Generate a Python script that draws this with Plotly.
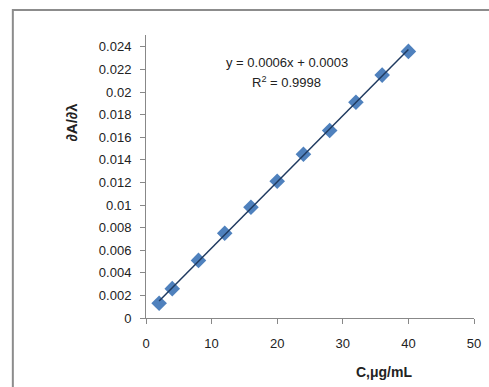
import numpy as np
import plotly.graph_objects as go

conc = [2, 4, 8, 12, 16, 20, 24, 28, 32, 36, 40]
deriv = [0.0013, 0.0026, 0.0051, 0.0075, 0.0098, 0.0121, 0.0145, 0.0166, 0.0191, 0.0215, 0.0236]
x_ticks = [0, 10, 20, 30, 40, 50]
y_ticks = [0, 0.002, 0.004, 0.006, 0.008, 0.01, 0.012, 0.014, 0.016, 0.018, 0.02, 0.022, 0.024]
y_tick_text = ["0", "0.002", "0.004", "0.006", "0.008", "0.01", "0.012", "0.014", "0.016", "0.018", "0.02", "0.022", "0.024"]
eq_line1 = "y = 0.0006x + 0.0003"
eq_line2 = "R<sup>2</sup> = 0.9998"

FONT = "'Liberation Sans', Arial, sans-serif"

slope, intercept = np.polyfit(conc, deriv, 1)
fit_x = [min(conc), max(conc)]
fit_y = [slope * v + intercept for v in fit_x]

fig = go.Figure()
fig.add_trace(go.Scatter(
    x=conc, y=deriv, mode="markers",
    marker=dict(symbol="diamond", size=12, color="#4F81BD", line=dict(width=0)),
    showlegend=False,
))
fig.add_trace(go.Scatter(
    x=fit_x, y=fit_y, mode="lines",
    line=dict(color="#1F3A60", width=1.5),
    showlegend=False,
))

fig.update_layout(
    width=489, height=387,
    margin=dict(l=146, r=8, t=35, b=69),
    paper_bgcolor="white", plot_bgcolor="white",
    font=dict(family=FONT, size=13, color="#222"),
    xaxis=dict(
        range=[0, 50], tickvals=x_ticks, showgrid=False, zeroline=False,
        showline=True, linecolor="#888", linewidth=1,
        ticks="outside", ticklen=5, tickcolor="#888", ticklabelstandoff=8,
        tickfont=dict(family=FONT, size=13, color="#222"),
    ),
    yaxis=dict(
        range=[0, 0.02505], tickvals=y_ticks, ticktext=y_tick_text,
        showgrid=False, zeroline=False,
        showline=True, linecolor="#888", linewidth=1,
        ticks="outside", ticklen=5, tickcolor="#888", ticklabelstandoff=6,
        tickfont=dict(family=FONT, size=13, color="#222"),
    ),
    shapes=[dict(
        type="rect", xref="paper", yref="paper",
        x0=(10 - 146) / 335, x1=1.2, y0=-0.5, y1=(318 - 10) / 283,
        line=dict(color="#8c8c8c", width=2), fillcolor="rgba(0,0,0,0)", layer="below",
    )],
    annotations=[
        dict(text=eq_line1, xref="paper", yref="paper", x=(290 - 146) / 335, y=(318 - 62) / 283,
             showarrow=False, xanchor="center", yanchor="middle",
             font=dict(family=FONT, size=13, color="#222")),
        dict(text=eq_line2, xref="paper", yref="paper", x=(290 - 146) / 335, y=(318 - 82) / 283,
             showarrow=False, xanchor="center", yanchor="middle",
             font=dict(family=FONT, size=13, color="#222")),
        dict(text="<b>C,μg/mL</b>", xref="paper", yref="paper", x=(389 - 146) / 335, y=(318 - 372) / 283,
             showarrow=False, xanchor="center", yanchor="middle",
             font=dict(family=FONT, size=14, color="#222")),
        dict(text="<b>∂A/∂λ</b>", xref="paper", yref="paper", x=(70 - 146) / 335, y=(318 - 122) / 283,
             showarrow=False, textangle=-90, xanchor="center", yanchor="middle",
             font=dict(family=FONT, size=15, color="#222")),
    ],
)

fig.write_html("out.html")
